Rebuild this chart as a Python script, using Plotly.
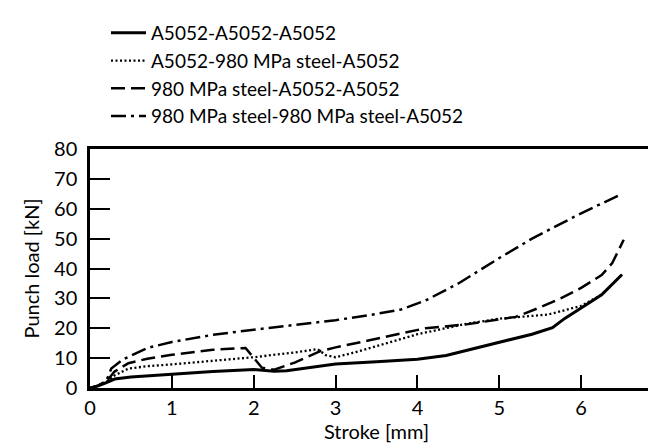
import plotly.graph_objects as go

# ---- data ----
names = ["A5052-A5052-A5052",
         "A5052-980 MPa steel-A5052",
         "980 MPa steel-A5052-A5052",
         "980 MPa steel-980 MPa steel-A5052"]

x_aaa = [0, 0.1, 0.2, 0.3, 0.5, 1.0, 1.5, 2.0, 2.1, 2.25, 2.4, 3.0, 3.5, 4.0, 4.35, 4.7, 5.0, 5.4, 5.65, 5.8, 6.0, 6.25, 6.5]
y_aaa = [0, 0.7, 1.8, 3.0, 3.7, 4.7, 5.5, 6.2, 6.0, 5.6, 5.8, 8.0, 8.8, 9.6, 10.9, 13.2, 15.4, 18.0, 20.2, 23.3, 26.8, 31.2, 38.0]

x_asa = [0, 0.1, 0.2, 0.3, 0.47, 0.7, 1.0, 1.5, 2.0, 2.5, 2.78, 2.88, 3.0, 3.2, 3.4, 4.0, 4.6, 5.0, 5.6, 6.0, 6.25, 6.5]
y_asa = [0, 0.8, 2.0, 4.2, 6.5, 7.3, 7.9, 9.2, 10.3, 11.9, 13.0, 11.0, 10.3, 11.7, 13.2, 18.0, 21.5, 23.2, 24.6, 27.5, 31.2, 38.0]

x_saa = [0, 0.1, 0.2, 0.3, 0.47, 0.7, 1.0, 1.5, 1.9, 2.02, 2.1, 2.25, 2.5, 2.82, 3.0, 3.4, 3.72, 4.1, 4.6, 5.2, 5.5, 5.75, 6.0, 6.25, 6.38, 6.52]
y_saa = [0, 0.8, 2.2, 5.5, 8.3, 9.8, 11.1, 12.8, 13.4, 9.5, 6.8, 6.1, 8.5, 12.4, 13.6, 15.9, 17.8, 20.0, 21.3, 23.8, 27.0, 30.0, 33.5, 37.8, 41.8, 49.6]

x_ssa = [0, 0.1, 0.2, 0.26, 0.4, 0.7, 1.0, 1.5, 2.0, 2.5, 3.0, 3.5, 3.8, 4.1, 4.5, 5.0, 5.4, 5.95, 6.5]
y_ssa = [0, 0.8, 2.4, 6.5, 9.5, 13.4, 15.4, 17.8, 19.5, 21.2, 22.7, 24.8, 26.3, 29.3, 35.0, 43.5, 50.0, 57.8, 65.0]

x_ticks = [0, 1, 2, 3, 4, 5, 6, 7]
y_ticks = [0, 10, 20, 30, 40, 50, 60, 70, 80]

FONT = "Lato"

series = [
    (x_aaa, y_aaa, "solid", 3.0),
    (x_asa, y_asa, "2px,2.5px", 2.3),
    (x_saa, y_saa, "14px,6px", 2.5),
    (x_ssa, y_ssa, "15px,5px,3px,5px", 2.5),
]

fig = go.Figure()
for (xs, ys, dash, w), nm in zip(series, names):
    fig.add_trace(go.Scatter(x=xs, y=ys, mode="lines", name=nm,
                             line=dict(color="black", width=w, dash=dash)))

L, T, B = 82, 141, 65
PW, PH = 656 - L - 1, 445 - T - B

fig.update_layout(
    width=656, height=445,
    margin=dict(l=L, r=1, t=T, b=B, autoexpand=False),
    paper_bgcolor="white", plot_bgcolor="white",
    font=dict(family=FONT, size=20, color="black"),
    showlegend=True,
    legend=dict(x=(98 - L) / PW, y=(445 - B - 6) / PH, xanchor="left", yanchor="top",
                bgcolor="rgba(0,0,0,0)", itemwidth=35, tracegroupgap=0,
                font=dict(family=FONT, size=19)),
    xaxis=dict(range=[0, 7], tickvals=x_ticks, ticktext=[str(v) for v in x_ticks],
               showgrid=False, zeroline=False, showline=True, mirror=True,
               linecolor="black", linewidth=2.5, ticks="inside", ticklen=13,
               tickwidth=2, tickcolor="black", automargin=False,
               ticklabeloverflow="allow",
               title=dict(text="Stroke [mm]", font=dict(size=20), standoff=6)),
    yaxis=dict(range=[0, 80], tickvals=y_ticks, ticktext=[str(v) for v in y_ticks],
               showgrid=False, zeroline=False, showline=True, mirror=True,
               linecolor="black", linewidth=2.5, ticks="inside", ticklen=20,
               tickwidth=2, tickcolor="black", automargin=False,
               ticklabelstandoff=6, ticklabeloverflow="allow",
               title=dict(text="Punch load [kN]", font=dict(size=20), standoff=10)),
)

fig.write_html("out.html")
